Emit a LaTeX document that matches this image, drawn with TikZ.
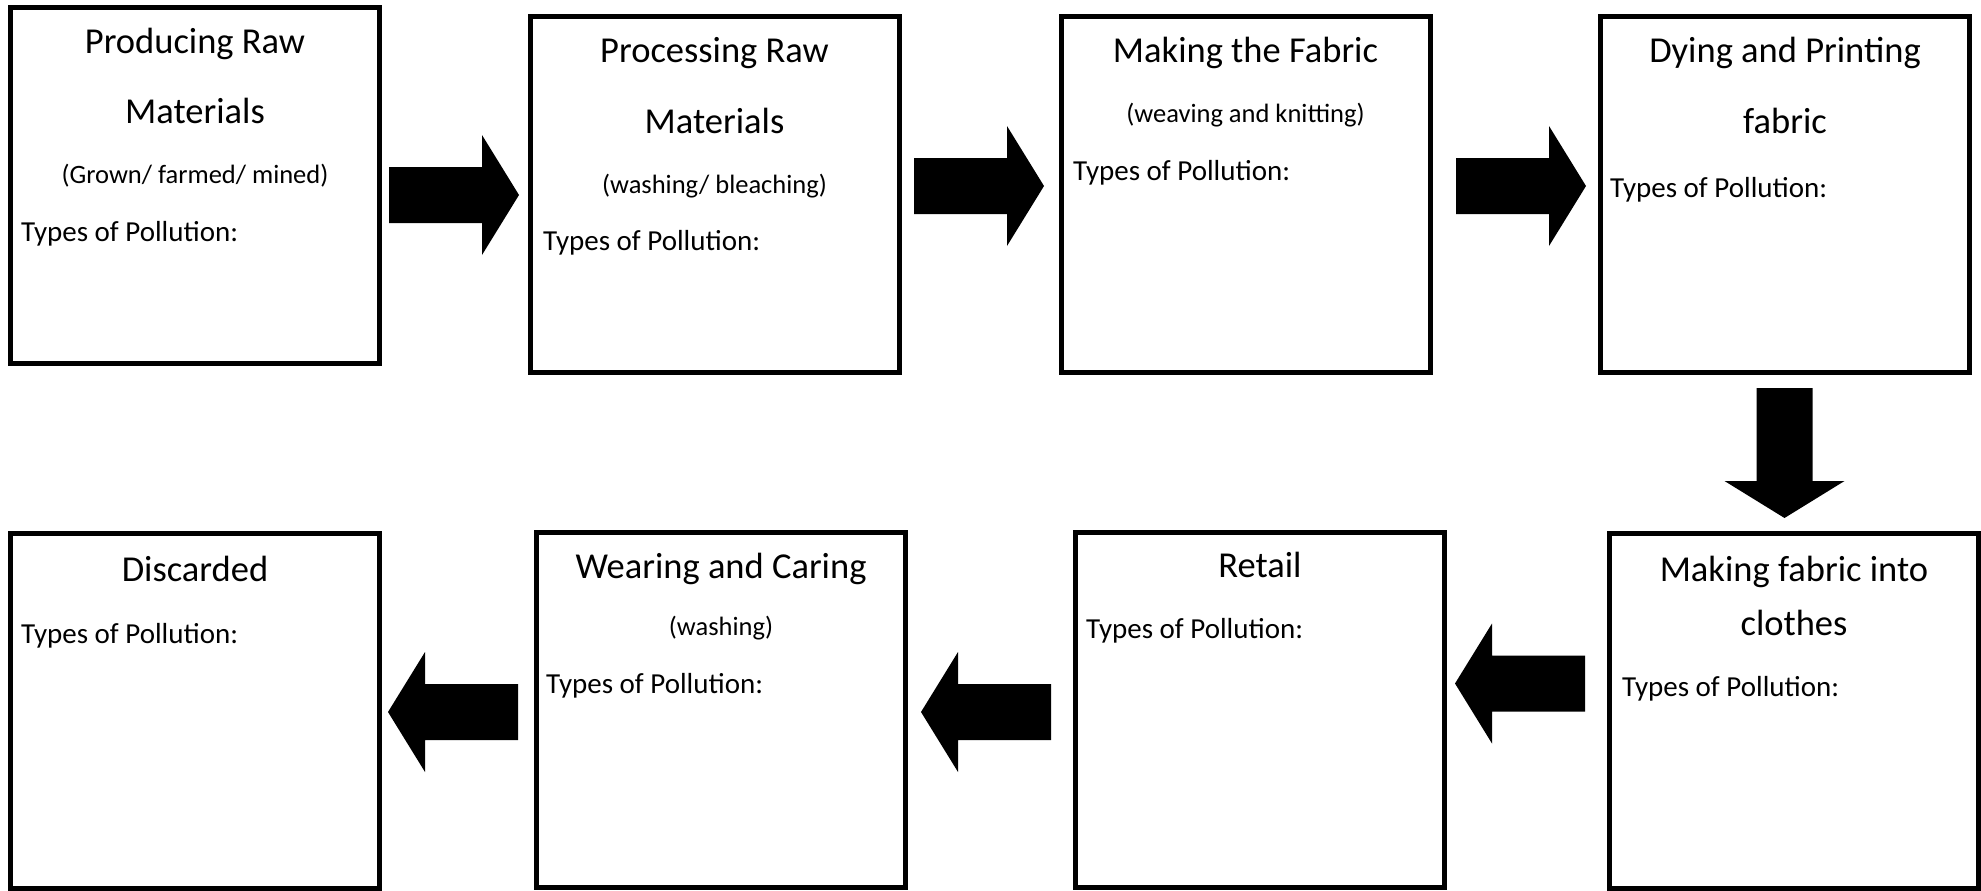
\documentclass[tikz,border=0pt]{standalone}
\usepackage{fontspec}
\setmainfont{Carlito}
\begin{document}
\begin{tikzpicture}[x=1pt,y=-1pt,
  stagebox/.style={draw=black,line width=5pt,fill=white,inner sep=0pt,minimum width=369pt},
  toprow/.style={minimum height=356pt},
  botrow/.style={minimum height=355pt},
  ttl/.style={anchor=base,inner sep=0pt,font=\fontsize{36.5}{40}\selectfont},
  sub/.style={anchor=base,inner sep=0pt,font=\fontsize{26.5}{30}\selectfont},
  poll/.style={anchor=base west,inner sep=0pt,font=\fontsize{29}{32}\selectfont},
  blockarrow/.pic={\fill[black] (0,-28) -- (93,-28) -- (93,-60) -- (130,0) -- (93,60) -- (93,28) -- (0,28) -- cycle;}
]
\fill[white] (0,0) rectangle (1981,891);
\useasboundingbox (0,0) rectangle (1981,891);

% boxes
\node[stagebox,toprow] (b1) at (195,185.5) {};
\node[stagebox,toprow] (b2) at (714.5,194.5) {};
\node[stagebox,toprow] (b3) at (1245.5,194.5) {};
\node[stagebox,toprow] (b4) at (1785,194.5) {};
\node[stagebox,botrow] (b8) at (1794,711) {};
\node[stagebox,botrow] (b7) at (1260,709.5) {};
\node[stagebox,botrow] (b6) at (721,709.5) {};
\node[stagebox,botrow] (b5) at (195,711) {};

% texts box 1
\node[ttl] (t1a) at (195,54) {Producing Raw};
\node[ttl] (t1b) at (195,123) {Materials};
\node[sub] (t1c) at (195,183) {(Grown/ farmed/ mined)};
\node[poll] (p1) at (21,241) {Types of Pollution:};
% box 2
\node[ttl] (t2a) at (714.5,63) {Processing Raw};
\node[ttl] (t2b) at (714.5,133) {Materials};
\node[sub] (t2c) at (714.5,193) {(washing/ bleaching)};
\node[poll] (p2) at (543,250) {Types of Pollution:};
% box 3
\node[ttl] (t3a) at (1245.5,63) {Making the Fabric};
\node[sub] (t3c) at (1245.5,122) {(weaving and knitting)};
\node[poll] (p3) at (1073,180) {Types of Pollution:};
% box 4
\node[ttl] (t4a) at (1785,63) {Dying and Printing};
\node[ttl] (t4b) at (1785,133) {fabric};
\node[poll] (p4) at (1610,197) {Types of Pollution:};
% box 8
\node[ttl] (t8a) at (1794,581) {Making fabric into};
\node[ttl] (t8b) at (1794,635) {clothes};
\node[poll] (p8) at (1622,696) {Types of Pollution:};
% box 7
\node[ttl] (t7a) at (1260,577) {Retail};
\node[poll] (p7) at (1086,638) {Types of Pollution:};
% box 6
\node[ttl] (t6a) at (721,578) {Wearing and Caring};
\node[sub] (t6c) at (721,635) {(washing)};
\node[poll] (p6) at (546,693) {Types of Pollution:};
% box 5
\node[ttl] (t5a) at (195,581) {Discarded};
\node[poll] (p5) at (21,643) {Types of Pollution:};

% arrow tails
\coordinate (a12) at (389,195);
\coordinate (a23) at (914,186);
\coordinate (a34) at (1456,186);
\coordinate (a48) at (1784.5,388);
\coordinate (a87) at (1585,683.5);
\coordinate (a76) at (1051,712);
\coordinate (a65) at (518,712);

\pic at (a12) {blockarrow};
\pic at (a23) {blockarrow};
\pic at (a34) {blockarrow};
\pic[rotate=-90] at (a48) {blockarrow};
\pic[rotate=180] at (a87) {blockarrow};
\pic[rotate=180] at (a76) {blockarrow};
\pic[rotate=180] at (a65) {blockarrow};
\end{tikzpicture}
\end{document}
